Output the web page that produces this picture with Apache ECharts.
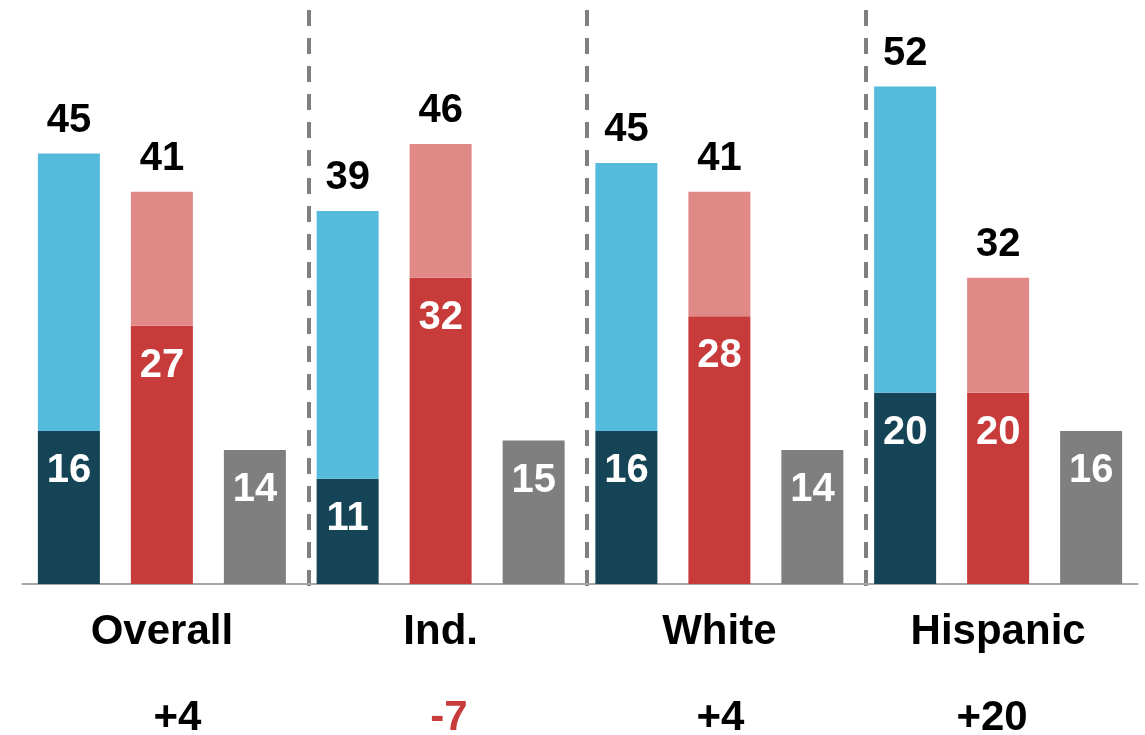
<!DOCTYPE html>
<html><head><meta charset="utf-8">
<script src="https://cdn.jsdelivr.net/npm/echarts@6/dist/echarts.min.js"></script>
<style>html,body{margin:0;padding:0;background:#fff}#c{width:1145px;height:735px}</style>
</head><body><div id="c"></div><script>
// ---- data ----
const categories = ['Overall', 'Ind.', 'White', 'Hispanic'];
const blueBase   = [16, 11, 16, 20];
const blueUpper  = [29, 28, 28, 32];
const blueTotals = [45, 39, 45, 52];
const redBase    = [27, 32, 28, 20];
const redUpper   = [14, 14, 13, 12];
const redTotals  = [41, 46, 41, 32];
const grayValues = [14, 15, 14, 16];
const differences = ['+4', '-7', '+4', '+20'];

// ---- style ----
const FONT = "'Liberation Sans', Arial, sans-serif";
const C = {
  darkBlue: '#144455', lightBlue: '#55bbdd',
  darkRed: '#c83b3b', lightRed: '#e08987',
  gray: '#7f7f7f', axis: '#a6a6a6', dash: '#808080'
};
const insideLabel = {
  show: true, position: 'insideTop', distance: 20,
  color: '#fff', fontFamily: FONT, fontWeight: 'bold', fontSize: 40
};
function topLabel(totals) {
  return {
    show: true, position: 'top', distance: 13,
    color: '#000', fontFamily: FONT, fontWeight: 'bold', fontSize: 40,
    formatter: p => String(totals[p.dataIndex])
  };
}
const barCommon = { barWidth: 62, barGap: '50%', xAxisIndex: 0, yAxisIndex: 0 };

const chart = echarts.init(document.getElementById('c'), null, { renderer: 'canvas' });
chart.setOption({
  animation: false,
  backgroundColor: '#fff',
  grid: [
    { left: 22.5, width: 1115, top: 10, bottom: 151, outerBoundsMode: 'none' },
    { left: 29.5, width: 1115, top: 10, bottom: 148, outerBoundsMode: 'none' },
    { left: 41.75, width: 1086, top: 10, bottom: 151, outerBoundsMode: 'none' }
  ],
  xAxis: [
    {
      gridIndex: 0, type: 'category', data: categories,
      axisLine: { show: true, lineStyle: { color: C.axis, width: 2 } },
      axisTick: { show: false },
      axisLabel: { margin: 27, color: '#000', fontFamily: FONT, fontWeight: 'bold', fontSize: 42 },
      splitLine: { show: false }
    },
    {
      gridIndex: 1, type: 'category', data: categories,
      axisLine: { show: false }, axisTick: { show: false }, axisLabel: { show: false },
      splitLine: {
        show: true, showMinLine: false, showMaxLine: false,
        lineStyle: { color: C.dash, width: 4, type: [16, 12] }
      }
    },
    {
      gridIndex: 2, type: 'category', data: differences,
      axisLine: { show: false }, axisTick: { show: false },
      axisLabel: {
        margin: 113,
        formatter: v => (v.charAt(0) === '-' ? '{neg|' + v + '}' : '{pos|' + v + '}'),
        rich: {
          pos: { color: '#000', fontFamily: FONT, fontWeight: 'bold', fontSize: 42 },
          neg: { color: C.darkRed, fontFamily: FONT, fontWeight: 'bold', fontSize: 42 }
        }
      },
      splitLine: { show: false }
    }
  ],
  yAxis: [
    { gridIndex: 0, type: 'value', min: 0, max: 60, show: false, splitLine: { show: false } },
    { gridIndex: 1, type: 'value', min: 0, max: 60, show: false, splitLine: { show: false } },
    { gridIndex: 2, type: 'value', min: 0, max: 60, show: false, splitLine: { show: false } }
  ],
  series: [
    Object.assign({ type: 'bar', stack: 'blue', data: blueBase,
      itemStyle: { color: C.darkBlue }, label: insideLabel }, barCommon),
    Object.assign({ type: 'bar', stack: 'blue', data: blueUpper,
      itemStyle: { color: C.lightBlue }, label: topLabel(blueTotals) }, barCommon),
    Object.assign({ type: 'bar', stack: 'red', data: redBase,
      itemStyle: { color: C.darkRed }, label: insideLabel }, barCommon),
    Object.assign({ type: 'bar', stack: 'red', data: redUpper,
      itemStyle: { color: C.lightRed }, label: topLabel(redTotals) }, barCommon),
    Object.assign({ type: 'bar', stack: 'gray', data: grayValues,
      itemStyle: { color: C.gray }, label: insideLabel }, barCommon)
  ]
});
</script></body></html>
